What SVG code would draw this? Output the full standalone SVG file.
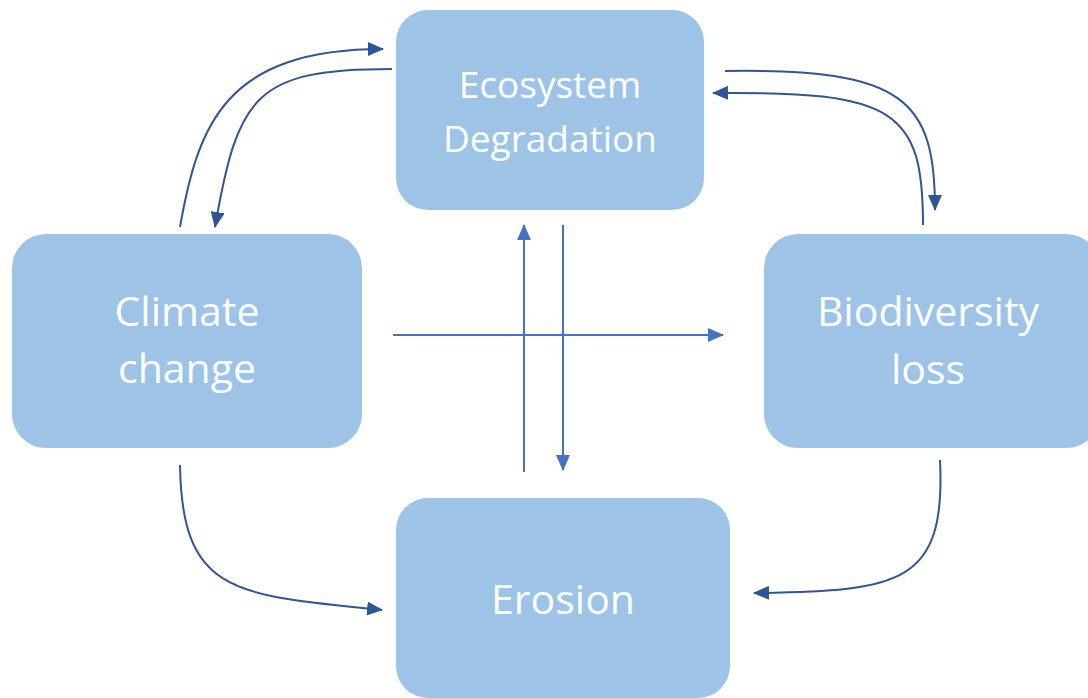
<svg xmlns="http://www.w3.org/2000/svg" width="1088" height="698" viewBox="0 0 1088 698">
<style>
.box{fill:#9DC3E6;}
.lbl{font-family:"Open Sans","Liberation Sans",sans-serif;font-size:41px;fill:#ffffff;text-anchor:middle;}
.sm{font-size:37px;}
.dk{fill:none;stroke:#2F5597;stroke-width:2;marker-end:url(#ad);}
.lt{fill:none;stroke:#4472C4;stroke-width:2;marker-end:url(#al);}
</style>
<defs>
<marker id="ad" markerUnits="userSpaceOnUse" markerWidth="16" markerHeight="14" refX="15" refY="7" orient="auto"><path d="M0,0 L16,7 L0,14 z" fill="#2F5597"/></marker>
<marker id="al" markerUnits="userSpaceOnUse" markerWidth="16" markerHeight="14" refX="15" refY="7" orient="auto"><path d="M0,0 L16,7 L0,14 z" fill="#4472C4"/></marker>
</defs>
<rect width="1088" height="698" fill="#ffffff"/>
<g id="ecosystem"><rect class="box" x="396" y="10" width="308" height="200" rx="32"/><text class="lbl sm" x="550" y="98">Ecosystem</text><text class="lbl sm" x="550" y="152">Degradation</text></g>
<g id="climate"><rect class="box" x="12" y="234" width="350" height="214" rx="34"/><text class="lbl" x="187" y="326">Climate</text><text class="lbl" x="187" y="383">change</text></g>
<g id="biodiversity"><rect class="box" x="764" y="234" width="336" height="214" rx="34"/><text class="lbl" x="928" y="326">Biodiversity</text><text class="lbl" x="928" y="384">loss</text></g>
<g id="erosion"><rect class="box" x="396" y="498" width="334" height="200" rx="32"/><text class="lbl" x="563" y="614">Erosion</text></g>
<g id="connectors">
<path class="dk" d="M180,227 C198,125 225,49 383,49"/>
<path class="dk" d="M392,69 C255,69 238,95 215,227"/>
<path class="dk" d="M725,71 C905,68 935,100 935,210"/>
<path class="dk" d="M923,225 C923,110 895,91 713,93"/>
<path class="dk" d="M180,465 C182,595 235,595 382,610"/>
<path class="dk" d="M940,460 C946,585 900,591 754,593"/>
<path class="lt" d="M393,335 L723,335"/>
<path class="lt" d="M524,472 L524,225"/>
<path class="lt" d="M563,225 L563,470"/>
</g>
</svg>
